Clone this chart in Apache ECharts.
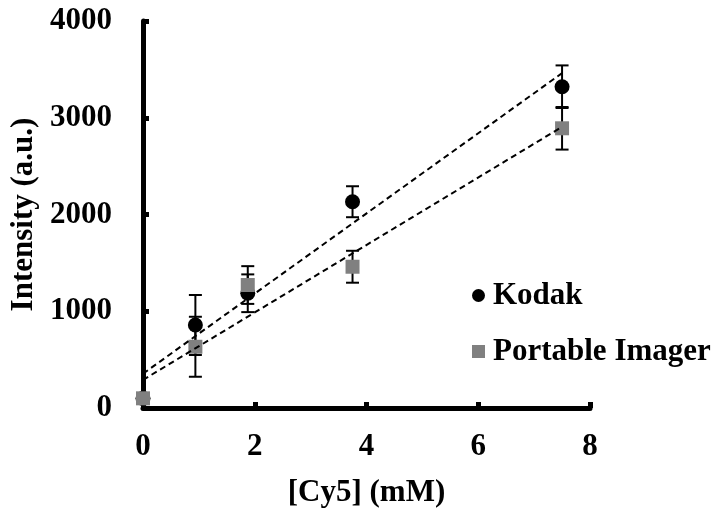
<!DOCTYPE html>
<html>
<head>
<meta charset="utf-8">
<script src="https://cdn.jsdelivr.net/npm/echarts@6/dist/echarts.min.js"></script>
<style>
  html, body { margin: 0; padding: 0; background: #fff; }
  #chart { width: 720px; height: 508px; }
</style>
</head>
<body>
<div id="chart"></div>
<script>
const concentrations = [0, 0.9375, 1.875, 3.75, 7.5]
const kodakValues = [100, 858, 1186, 2132, 3321]
const kodakErrors = [30, 310, 195, 160, 220]
const imagerValues = [100, 633, 1271, 1460, 2891]
const imagerErrors = [20, 310, 195, 165, 220]
const xTicks = [0, 2, 4, 6, 8]
const yTicks = [0, 1000, 2000, 3000, 4000]

const font = '"Liberation Serif", "Times New Roman", serif'

// least-squares trendline, same as the spreadsheet one
function fitLine(xs, ys) {
  const n = xs.length
  const mx = xs.reduce((a, b) => a + b, 0) / n
  const my = ys.reduce((a, b) => a + b, 0) / n
  let sxy = 0
  let sxx = 0
  for (let i = 0; i < n; i++) {
    sxy += (xs[i] - mx) * (ys[i] - my)
    sxx += (xs[i] - mx) * (xs[i] - mx)
  }
  const slope = sxy / sxx
  const icpt = my - slope * mx
  const x0 = Math.min(...xs)
  const x1 = Math.max(...xs)
  return [[x0, icpt + slope * x0], [x1, icpt + slope * x1]]
}

function pairs(xs, ys) {
  return xs.map((x, i) => [x, ys[i]])
}

function errorData(xs, ys, errs) {
  return xs.map((x, i) => [x, ys[i] - errs[i], ys[i] + errs[i]])
}

function renderErrorBar(params, api) {
  const lo = api.coord([api.value(0), api.value(1)])
  const hi = api.coord([api.value(0), api.value(2)])
  const w = 6.5
  const style = { stroke: '#000', lineWidth: 2 }
  return {
    type: 'group',
    children: [
      { type: 'line', shape: { x1: lo[0], y1: lo[1], x2: hi[0], y2: hi[1] }, style },
      { type: 'line', shape: { x1: lo[0] - w, y1: lo[1], x2: lo[0] + w, y2: lo[1] }, style },
      { type: 'line', shape: { x1: hi[0] - w, y1: hi[1], x2: hi[0] + w, y2: hi[1] }, style }
    ]
  }
}

const labelStyle = { fontFamily: font, fontWeight: 'bold', fontSize: 31, color: '#000' }
const axisLine = { show: true, lineStyle: { color: '#000', width: 5 } }
const axisTick = { show: true, inside: true, length: 6, lineStyle: { color: '#000', width: 5 } }

const chart = echarts.init(document.getElementById('chart'))

chart.setOption({
  backgroundColor: '#fff',
  animation: false,
  textStyle: { fontFamily: font },
  grid: { left: 143, right: 130, top: 21, bottom: 100, outerBoundsMode: 'none', containLabel: false },
  legend: {
    data: [
      { name: 'Kodak', icon: 'circle' },
      { name: 'Portable Imager', icon: 'rect' }
    ],
    orient: 'vertical',
    left: 467,
    top: 275,
    itemWidth: 13,
    itemHeight: 13,
    itemGap: 25,
    itemStyle: { opacity: 1 },
    textStyle: { ...labelStyle, padding: [0, 0, 0, 3] }
  },
  xAxis: {
    type: 'value',
    min: xTicks[0],
    max: xTicks[xTicks.length - 1],
    interval: 2,
    name: '[Cy5] (mM)',
    nameLocation: 'middle',
    nameGap: 69,
    nameTextStyle: labelStyle,
    axisLine,
    axisTick,
    splitLine: { show: false },
    axisLabel: { ...labelStyle, margin: 23, formatter: v => String(v) }
  },
  yAxis: {
    type: 'value',
    min: yTicks[0],
    max: yTicks[yTicks.length - 1],
    interval: 1000,
    name: 'Intensity (a.u.)',
    nameLocation: 'middle',
    nameGap: 100,
    nameTextStyle: labelStyle,
    axisLine,
    axisTick,
    splitLine: { show: false },
    axisLabel: { ...labelStyle, margin: 31, formatter: v => String(v) }
  },
  series: [
    {
      name: 'Kodak err',
      type: 'custom',
      renderItem: renderErrorBar,
      data: errorData(concentrations, kodakValues, kodakErrors),
      z: 3,
      silent: true
    },
    {
      name: 'Imager err',
      type: 'custom',
      renderItem: renderErrorBar,
      data: errorData(concentrations, imagerValues, imagerErrors),
      z: 3,
      silent: true
    },
    {
      name: 'Kodak',
      type: 'scatter',
      symbol: 'circle',
      symbolSize: 15,
      itemStyle: { color: '#000', opacity: 1 },
      data: pairs(concentrations, kodakValues),
      clip: false,
      z: 4
    },
    {
      name: 'Portable Imager',
      type: 'scatter',
      symbol: 'rect',
      symbolSize: 14,
      itemStyle: { color: '#808080', opacity: 1 },
      data: pairs(concentrations, imagerValues),
      clip: false,
      z: 5
    },
    {
      name: 'Kodak fit',
      type: 'line',
      showSymbol: false,
      data: fitLine(concentrations, kodakValues),
      lineStyle: { color: '#000', width: 2, type: [6, 4] },
      z: 6,
      silent: true
    },
    {
      name: 'Imager fit',
      type: 'line',
      showSymbol: false,
      data: fitLine(concentrations, imagerValues),
      lineStyle: { color: '#000', width: 2, type: [6, 4] },
      z: 6,
      silent: true
    }
  ]
})
</script>
</body>
</html>
